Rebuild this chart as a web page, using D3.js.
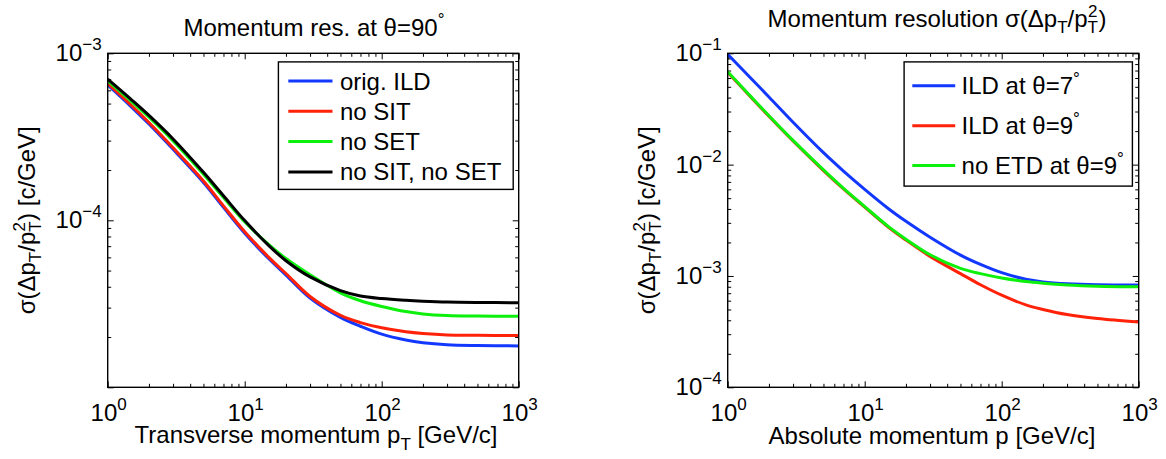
<!DOCTYPE html>
<html>
<head>
<meta charset="utf-8">
<script src="https://cdn.jsdelivr.net/npm/d3@7"></script>
<style>
  body { margin: 0; background: #fff; }
  text { font-family: "Liberation Sans", Arial, Helvetica, sans-serif; fill: #000; }
</style>
</head>
<body>
<svg id="chart" width="1166" height="459"></svg>
<script>
// ---- data ----
const pLeft = [1, 1.5, 2, 3, 5, 7, 10, 15, 20, 30, 50, 70, 100, 150, 200, 300, 500, 1000];
const origIld    = [6.47e-4, 4.75e-4, 3.77e-4, 2.66e-4, 1.685e-4, 1.195e-4, 8.37e-5, 5.88e-5, 4.7e-5, 3.42e-5, 2.62e-5, 2.32e-5, 2.08e-5, 1.92e-5, 1.85e-5, 1.8e-5, 1.78e-5, 1.77e-5];
const noSit      = [6.6e-4, 4.85e-4, 3.85e-4, 2.72e-4, 1.72e-4, 1.22e-4, 8.54e-5, 6.0e-5, 4.8e-5, 3.5e-5, 2.7e-5, 2.44e-5, 2.27e-5, 2.15e-5, 2.1e-5, 2.06e-5, 2.05e-5, 2.04e-5];
const noSet      = [6.83e-4, 5.12e-4, 4.14e-4, 2.99e-4, 1.89e-4, 1.37e-4, 9.8e-5, 7.15e-5, 5.9e-5, 4.72e-5, 3.68e-5, 3.3e-5, 3.05e-5, 2.84e-5, 2.75e-5, 2.69e-5, 2.67e-5, 2.66e-5];
const noSitNoSet = [7.0e-4, 5.25e-4, 4.245e-4, 3.07e-4, 1.937e-4, 1.402e-4, 9.96e-5, 7.05e-5, 5.73e-5, 4.58e-5, 3.79e-5, 3.52e-5, 3.4e-5, 3.32e-5, 3.28e-5, 3.24e-5, 3.22e-5, 3.21e-5];

const pRight = [1, 1.5, 2, 3, 5, 7, 10, 15, 20, 30, 50, 70, 100, 150, 200, 300, 500, 1000];
const ild7   = [9.8e-2, 5.85e-2, 4.05e-2, 2.4e-2, 1.28e-2, 8.75e-3, 6.0e-3, 4.0e-3, 3.1e-3, 2.23e-3, 1.54e-3, 1.27e-3, 1.07e-3, 9.35e-4, 8.85e-4, 8.5e-4, 8.32e-4, 8.28e-4];
const ild9   = [6.75e-2, 3.95e-2, 2.72e-2, 1.63e-2, 8.85e-3, 6.05e-3, 4.15e-3, 2.72e-3, 2.1e-3, 1.5e-3, 1.05e-3, 8.34e-4, 6.72e-4, 5.5e-4, 5.0e-4, 4.5e-4, 4.14e-4, 3.85e-4];
const noEtd9 = [6.84e-2, 4.0e-2, 2.75e-2, 1.65e-2, 8.96e-3, 6.12e-3, 4.2e-3, 2.76e-3, 2.14e-3, 1.55e-3, 1.17e-3, 1.05e-3, 9.6e-4, 8.9e-4, 8.6e-4, 8.3e-4, 8.1e-4, 8.0e-4];

const xTickExp = [0, 1, 2, 3];
const leftYTickExp = [-3, -4];          // 10^-5 is the bottom but has no label in the reference
const rightYTickExp = [-1, -2, -3, -4];

const legendLeft = ["orig. ILD", "no SIT", "no SET", "no SIT, no SET"];
const legendRight = [["ILD at θ=7", "°"], ["ILD at θ=9", "°"], ["no ETD at θ=9", "°"]];

const BLUE = "#1238ff", RED = "#ff2208", GREEN = "#0cf00c", BLACK = "#000";

// ---- layout ----
const svg = d3.select("#chart");
const plotW = 411, plotTop = 53.3, plotBottom = 387.3;
const majorLen = 6, minorLen = 3.5;

function sup10(g, x, y, exp, anchor) {
  const t = g.append("text").attr("x", x).attr("y", y)
    .attr("text-anchor", anchor).style("font-size", "24px");
  t.append("tspan").text("10");
  t.append("tspan").attr("dy", -11).style("font-size", "17px")
    .text(exp < 0 ? "\u2212" + (-exp) : exp);
  return t;
}

function yLabel(g, x, y) {
  const t = g.append("text").attr("transform", `translate(${x},${y}) rotate(-90)`)
    .attr("text-anchor", "middle").style("font-size", "24px");
  t.append("tspan").text("σ(Δp");
  t.append("tspan").attr("dy", 6).style("font-size", "17px").text("T");
  t.append("tspan").attr("dy", -6).text("/p");
  t.append("tspan").attr("dy", 6).style("font-size", "17px").text("T");
  t.append("tspan").attr("dx", -10).attr("dy", -16).style("font-size", "17px").text("2");
  t.append("tspan").attr("dx", 1).attr("dy", 10).text(") [c/GeV]");
}

function drawPanel(opt) {
  const g = svg.append("g");
  const x = d3.scaleLog().domain([1, 1000]).range([opt.x0, opt.x0 + plotW]);
  const y = d3.scaleLog().domain(opt.yDomain).range([plotBottom, plotTop]);

  const isMajor = v => Math.abs(Math.log10(v) - Math.round(Math.log10(v))) < 1e-9;
  const xMinor = x.ticks().filter(v => !isMajor(v));
  const xMajor = x.ticks().filter(isMajor);
  const yMinor = y.ticks().filter(v => !isMajor(v));
  const yMajor = y.ticks().filter(isMajor);

  const tickAxis = (axis, transform, vals, len) => {
    g.append("g").attr("transform", transform)
      .call(axis.tickValues(vals).tickSize(-len).tickFormat(""))
      .call(a => a.select(".domain").remove())
      .call(a => a.selectAll(".tick line").attr("stroke", "#000").attr("stroke-width", 1));
  };
  tickAxis(d3.axisBottom(x), `translate(0,${plotBottom})`, xMinor, minorLen);
  tickAxis(d3.axisBottom(x), `translate(0,${plotBottom})`, xMajor, majorLen);
  tickAxis(d3.axisTop(x), `translate(0,${plotTop})`, xMinor, minorLen);
  tickAxis(d3.axisTop(x), `translate(0,${plotTop})`, xMajor, majorLen);
  tickAxis(d3.axisLeft(y), `translate(${opt.x0},0)`, yMinor, minorLen);
  tickAxis(d3.axisLeft(y), `translate(${opt.x0},0)`, yMajor, majorLen);
  tickAxis(d3.axisRight(y), `translate(${opt.x0 + plotW},0)`, yMinor, minorLen);
  tickAxis(d3.axisRight(y), `translate(${opt.x0 + plotW},0)`, yMajor, majorLen);

  // curves
  const clipId = "clip" + Math.round(opt.x0);
  g.append("clipPath").attr("id", clipId).append("rect")
    .attr("x", opt.x0).attr("y", plotTop).attr("width", plotW).attr("height", plotBottom - plotTop);
  const line = d3.line().x(d => x(d[0])).y(d => y(d[1])).curve(d3.curveCatmullRom.alpha(0.5));
  opt.series.forEach(s => {
    g.append("path").attr("clip-path", `url(#${clipId})`)
      .datum(opt.p.map((p, i) => [p, s.values[i]]))
      .attr("fill", "none").attr("stroke", s.color).attr("stroke-width", 3)
      .attr("stroke-linejoin", "round").attr("d", line);
  });

  // box
  g.append("rect").attr("x", opt.x0).attr("y", plotTop).attr("width", plotW).attr("height", plotBottom - plotTop)
    .attr("fill", "none").attr("stroke", "#000").attr("stroke-width", 1.4);

  // tick labels
  xTickExp.forEach(e => sup10(g, x(Math.pow(10, e)) + 1, 421, e, "middle"));
  opt.yTickExp.forEach(e => sup10(g, opt.x0 - 6, y(Math.pow(10, e)) + 8, e, "end"));

  yLabel(g, opt.x0 - 73, (plotTop + plotBottom) / 2);

  // legend
  const L = opt.legend;
  g.append("rect").attr("x", L.x).attr("y", L.y).attr("width", L.w).attr("height", L.h)
    .attr("fill", "#fff").attr("stroke", "#000").attr("stroke-width", 1.4);
  L.items.forEach((it, i) => {
    const ry = L.row0 + i * L.rowStep;
    g.append("line").attr("x1", L.lx0).attr("x2", L.lx1).attr("y1", ry).attr("y2", ry)
      .attr("stroke", it.color).attr("stroke-width", 3);
    const t = g.append("text").attr("x", L.tx).attr("y", ry + 8.5).style("font-size", "24px");
    if (Array.isArray(it.label)) {
      t.append("tspan").text(it.label[0]);
      t.append("tspan").attr("dy", -10).style("font-size", "17px").text(it.label[1]);
    } else {
      t.text(it.label);
    }
  });
  return g;
}

// left panel (green drawn under black so black stays dominant where they meet)
const gl = drawPanel({
  x0: 107.7, yDomain: [1e-5, 1e-3], yTickExp: leftYTickExp, p: pLeft,
  series: [
    { values: origIld, color: BLUE },
    { values: noSit, color: RED },
    { values: noSet, color: GREEN },
    { values: noSitNoSet, color: BLACK }
  ],
  legend: {
    x: 278.4, y: 61.9, w: 234.8, h: 127.5, row0: 81, rowStep: 30.3,
    lx0: 288.3, lx1: 332.5, tx: 339.9,
    items: legendLeft.map((lab, i) => ({ label: lab, color: [BLUE, RED, GREEN, BLACK][i] }))
  }
});
{
  const t = gl.append("text").attr("x", 314).attr("y", 36).attr("text-anchor", "middle").style("font-size", "24px");
  t.append("tspan").text("Momentum res. at θ=90");
  t.append("tspan").attr("dy", -11).style("font-size", "17px").text("°");
  const xl = gl.append("text").attr("x", 316).attr("y", 443).attr("text-anchor", "middle").style("font-size", "24px");
  xl.append("tspan").text("Transverse momentum p");
  xl.append("tspan").attr("dy", 7).style("font-size", "17px").text("T");
  xl.append("tspan").attr("dy", -7).text(" [GeV/c]");
}

// right panel
const gr = drawPanel({
  x0: 727.7, yDomain: [1e-4, 1e-1], yTickExp: rightYTickExp, p: pRight,
  series: [
    { values: ild7, color: BLUE },
    { values: ild9, color: RED },
    { values: noEtd9, color: GREEN }
  ],
  legend: {
    x: 904.1, y: 61.9, w: 228.3, h: 124.2, row0: 85.8, rowStep: 39.9,
    lx0: 912.3, lx1: 955.2, tx: 961.6,
    items: legendRight.map((lab, i) => ({ label: lab, color: [BLUE, RED, GREEN][i] }))
  }
});
{
  const t = gr.append("text").attr("x", 937).attr("y", 27).attr("text-anchor", "middle").style("font-size", "24px");
  t.append("tspan").text("Momentum resolution σ(Δp");
  t.append("tspan").attr("dy", 6).style("font-size", "17px").text("T");
  t.append("tspan").attr("dy", -6).text("/p");
  t.append("tspan").attr("dy", 6).style("font-size", "17px").text("T");
  t.append("tspan").attr("dx", -10).attr("dy", -16).style("font-size", "17px").text("2");
  t.append("tspan").attr("dx", 1).attr("dy", 10).text(")");
  gr.append("text").attr("x", 932).attr("y", 444).attr("text-anchor", "middle").style("font-size", "24px")
    .text("Absolute momentum p [GeV/c]");
}
</script>
</body>
</html>
